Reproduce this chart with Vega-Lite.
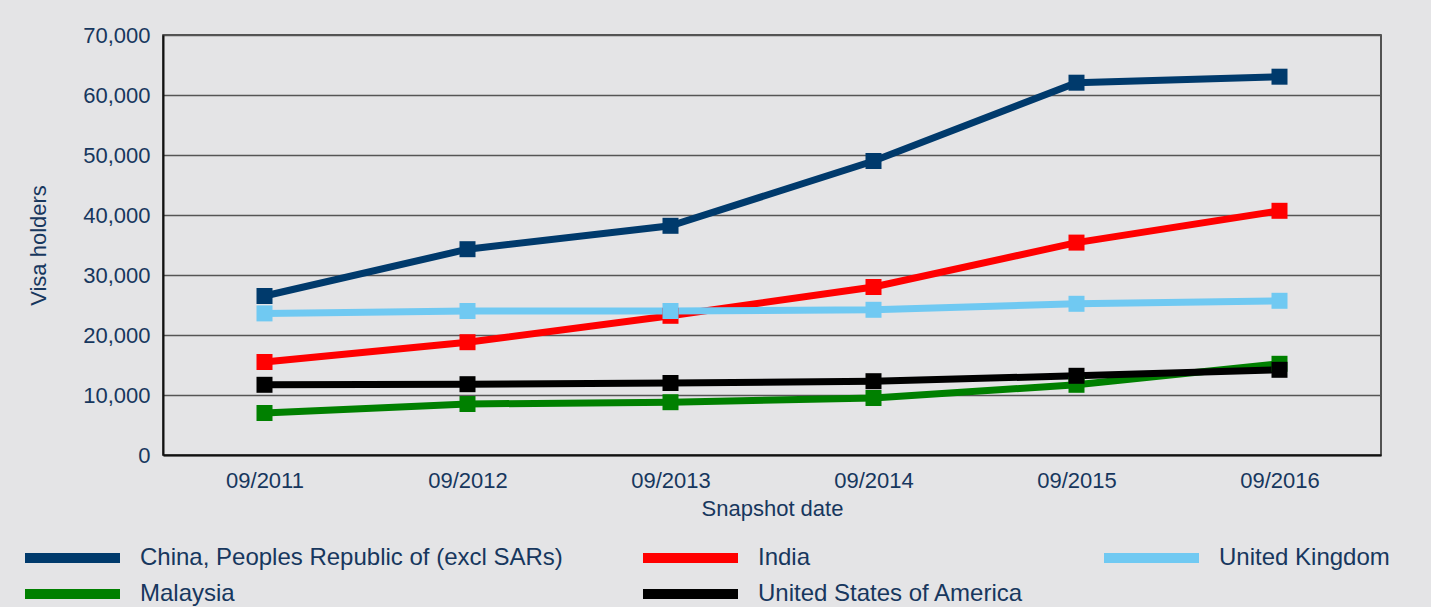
{
  "$schema": "https://vega.github.io/schema/vega-lite/v6.json",
  "width": 1218,
  "height": 420,
  "autosize": "none",
  "padding": {"left": 163, "top": 35, "right": 50, "bottom": 152},
  "background": "#e4e4e6",
  "config": {
    "font": "Liberation Sans",
    "view": {"stroke": "#222222", "strokeWidth": 1.5},
    "axis": {
      "labelColor": "#17375e",
      "titleColor": "#17375e",
      "labelFontSize": 22,
      "titleFontSize": 22,
      "titleFontWeight": "normal",
      "ticks": false,
      "domainColor": "#111111",
      "domainWidth": 2
    }
  },
  "data": {
    "values": [
      {"country": "China, Peoples Republic of (excl SARs)", "date": "09/2011", "value": 26500},
      {"country": "China, Peoples Republic of (excl SARs)", "date": "09/2012", "value": 34300},
      {"country": "China, Peoples Republic of (excl SARs)", "date": "09/2013", "value": 38200},
      {"country": "China, Peoples Republic of (excl SARs)", "date": "09/2014", "value": 49000},
      {"country": "China, Peoples Republic of (excl SARs)", "date": "09/2015", "value": 62050},
      {"country": "China, Peoples Republic of (excl SARs)", "date": "09/2016", "value": 63050},
      {"country": "India", "date": "09/2011", "value": 15500},
      {"country": "India", "date": "09/2012", "value": 18800},
      {"country": "India", "date": "09/2013", "value": 23200},
      {"country": "India", "date": "09/2014", "value": 28000},
      {"country": "India", "date": "09/2015", "value": 35400},
      {"country": "India", "date": "09/2016", "value": 40700},
      {"country": "United Kingdom", "date": "09/2011", "value": 23600},
      {"country": "United Kingdom", "date": "09/2012", "value": 24000},
      {"country": "United Kingdom", "date": "09/2013", "value": 24000},
      {"country": "United Kingdom", "date": "09/2014", "value": 24200},
      {"country": "United Kingdom", "date": "09/2015", "value": 25200},
      {"country": "United Kingdom", "date": "09/2016", "value": 25700},
      {"country": "Malaysia", "date": "09/2011", "value": 7000},
      {"country": "Malaysia", "date": "09/2012", "value": 8500},
      {"country": "Malaysia", "date": "09/2013", "value": 8800},
      {"country": "Malaysia", "date": "09/2014", "value": 9500},
      {"country": "Malaysia", "date": "09/2015", "value": 11700},
      {"country": "Malaysia", "date": "09/2016", "value": 15200},
      {"country": "United States of America", "date": "09/2011", "value": 11700},
      {"country": "United States of America", "date": "09/2012", "value": 11800},
      {"country": "United States of America", "date": "09/2013", "value": 12000},
      {"country": "United States of America", "date": "09/2014", "value": 12300},
      {"country": "United States of America", "date": "09/2015", "value": 13200},
      {"country": "United States of America", "date": "09/2016", "value": 14200}
    ]
  },
  "encoding": {
    "x": {
      "field": "date",
      "type": "ordinal",
      "scale": {"type": "point", "padding": 0.5},
      "axis": {
        "title": "Snapshot date",
        "labelAngle": 0,
        "labelPadding": 15,
        "titlePadding": 7,
        "grid": false
      }
    },
    "y": {
      "field": "value",
      "type": "quantitative",
      "scale": {"domain": [0, 70000]},
      "axis": {
        "title": "Visa holders",
        "values": [0, 10000, 20000, 30000, 40000, 50000, 60000, 70000],
        "format": ",d",
        "labelPadding": 13,
        "grid": true,
        "gridColor": "#555555",
        "gridWidth": 1.5,
        "titleX": -125,
        "titleY": 210,
        "titleBaseline": "middle",
        "titleAlign": "center"
      }
    },
    "color": {
      "field": "country",
      "type": "nominal",
      "scale": {
        "domain": ["China, Peoples Republic of (excl SARs)", "India", "United Kingdom", "Malaysia", "United States of America"],
        "range": ["#003a6c", "#ff0000", "#70c9f2", "#008000", "#000000"]
      },
      "legend": {
        "title": null,
        "orient": "none",
        "legendX": -143,
        "legendY": 508,
        "columns": 3,
        "direction": "horizontal",
        "columnPadding": 60,
        "rowPadding": -4,
        "symbolType": "M-1,0H8.5",
        "symbolSize": 400,
        "symbolStrokeWidth": 10,
        "labelOffset": 90,
        "labelFontSize": 24,
        "labelColor": "#17375e",
        "labelLimit": 600,
        "encode": {
          "symbols": {
            "update": {
              "stroke": {"scale": "color", "field": "value"},
              "strokeWidth": {"value": 10},
              "fill": {"value": "transparent"},
              "opacity": {"value": 1}
            }
          }
        }
      }
    }
  },
  "layer": [
    {"mark": {"type": "line", "strokeWidth": 7}},
    {"mark": {"type": "point", "shape": "square", "filled": true, "size": 256, "opacity": 1}}
  ]
}
